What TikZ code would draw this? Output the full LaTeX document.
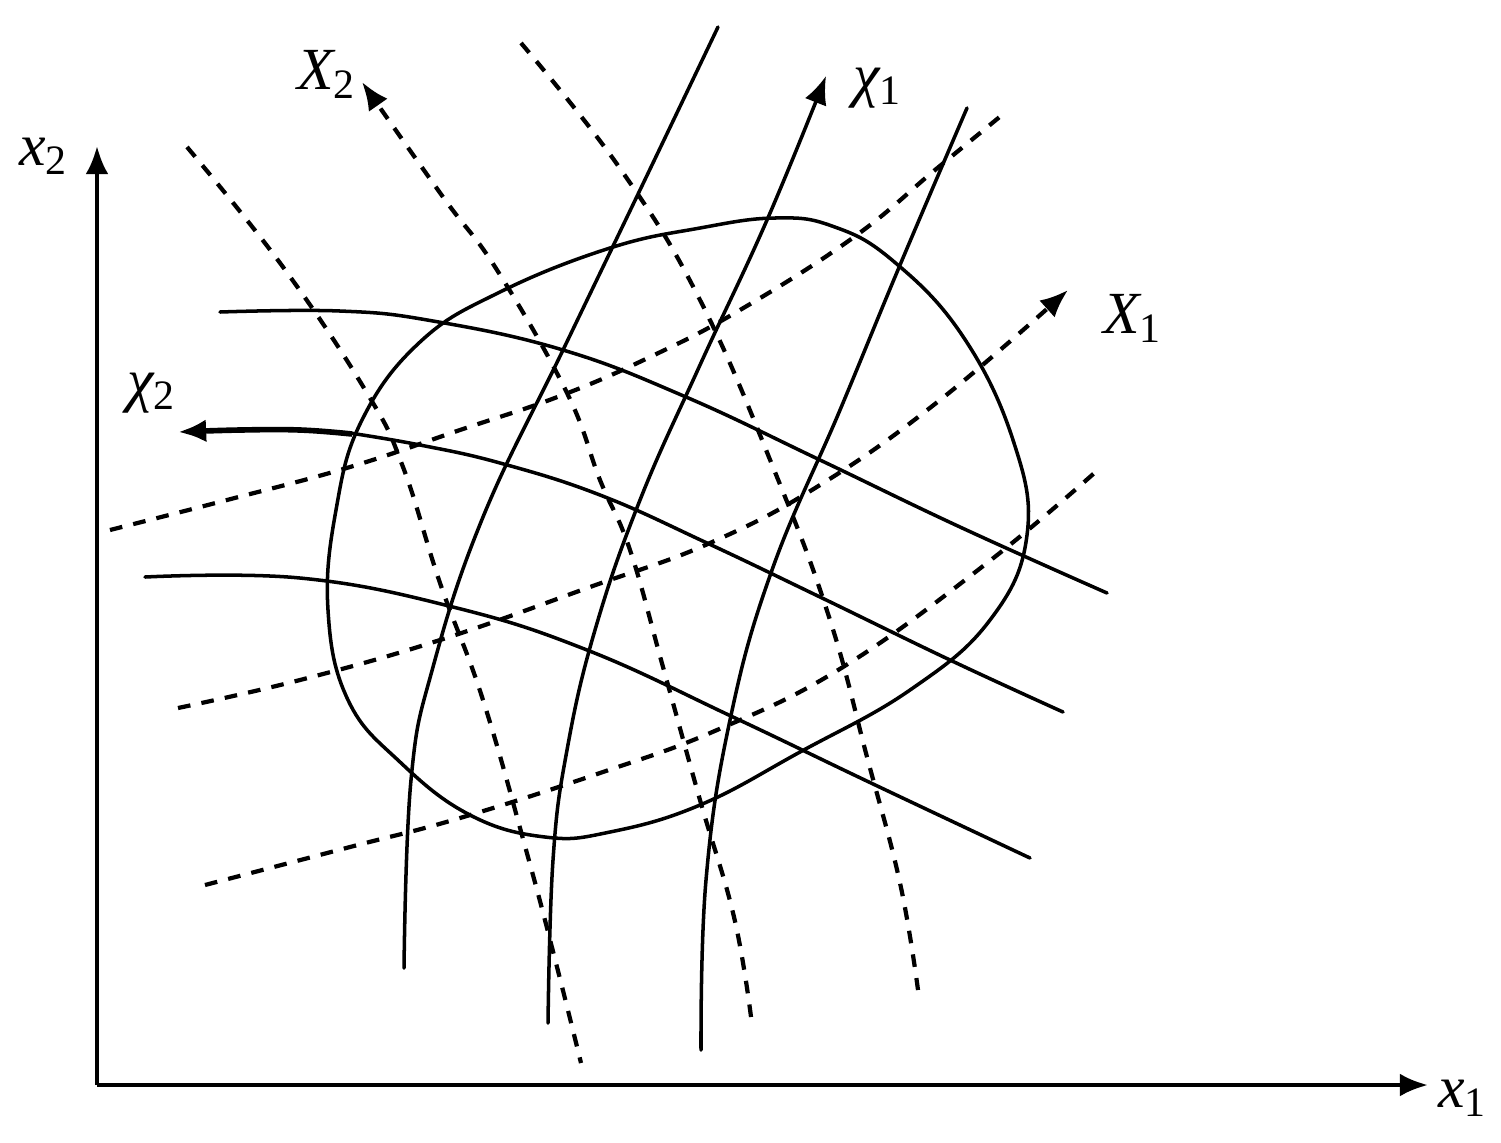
\documentclass[tikz,border=0pt]{standalone}
\usepackage{fontspec}
\setmainfont{Liberation Serif}
\usetikzlibrary{arrows.meta}
\begin{document}
\begin{tikzpicture}[x=0.01cm,y=-0.01cm,
  solidc/.style={line width=1pt,line cap=round,line join=round},
  dashc/.style={line width=1.2pt,dash pattern=on 3.6pt off 3.2pt},
  axisc/.style={line width=1.2pt},
  tip/.style={-{Latex[length=8pt,width=6.5pt]}},
  lbl/.style={font=\fontsize{17}{19}\selectfont\itshape,inner sep=0pt}]
\useasboundingbox (0,0) rectangle (1501,1142);
% axes
\coordinate (O) at (97,1085);
\coordinate (Ytop) at (97,146);
\coordinate (Xend) at (1428,1085);
\draw[axisc,tip] (O) -- (Ytop);
\draw[axisc,tip] (O) -- (Xend);
\node[lbl] (lx2) at (44,156) {x\textsubscript{\upshape 2}};
\node[lbl] (lx1) at (1463,1098) {x\textsubscript{\upshape 1}};
% closed region
\draw[solidc] plot[smooth cycle,tension=0.7] coordinates {
 (775,218) (832,226) (892,260) (962,335) (1013,440) (1027,535) (990,620)
 (910,690) (800,752) (700,805) (610,832) (545,837) (470,815) (400,762)
 (348,700) (328,610) (336,510) (362,420) (420,342) (500,292) (610,248)
 (700,228)};
% chi_1 family (solid)
\draw[solidc] plot[smooth,tension=0.7] coordinates {
 (718,27) (640,190) (563,350) (483,517) (433,667) (411,780) (404,968)};
\draw[solidc,tip] plot[smooth,tension=0.7] coordinates {
 (548,1023) (553,860) (567,750) (595,630) (640,500) (700,365) (767,220) (826,76)};
\draw[solidc] plot[smooth,tension=0.7] coordinates {
 (701,1050) (706,880) (730,720) (772,570) (840,410) (900,265) (967,108)};
% chi_2 family (solid)
\draw[solidc] plot[smooth,tension=0.7] coordinates {
 (220,312) (340,311) (433,321) (563,350) (686,397) (820,460) (960,527) (1107,593)};
\draw[solidc] plot[smooth,tension=0.7] coordinates {
 (1063,712) (950,660) (820,597) (707,543) (600,495) (500,463) (420,445) (350,433)};
\draw[line width=1.6pt,tip] plot[smooth,tension=0.7] coordinates {
 (352,434) (300,430) (240,430) (178,432)};
\draw[solidc] plot[smooth,tension=0.7] coordinates {
 (145,577) (300,578) (453,607) (587,650) (733,717) (871,783) (1030,858)};
% X_1 family (dashed)
\draw[dashc] plot[smooth,tension=0.7] coordinates {
 (110,530) (227,500) (350,467) (460,430) (560,396) (650,357) (740,310)
 (854,237) (935,170) (1002,115)};
\draw[dashc,tip] plot[smooth,tension=0.7] coordinates {
 (178,708) (300,680) (440,640) (590,587) (710,543) (820,485) (940,400) (1068,290)};
\draw[dashc] plot[smooth,tension=0.7] coordinates {
 (205,885) (350,847) (460,818) (600,773) (717,730) (843,667) (987,563) (1100,468)};
% X_2 family (dashed)
\draw[dashc] plot[smooth,tension=0.7] coordinates {
 (187,147) (283,267) (367,393) (403,467) (440,583) (483,700) (528,857)
 (557,967) (581,1063)};
\draw[dashc,tip] plot[smooth,tension=0.7] coordinates {
 (751,1017) (734,917) (700,800) (663,667) (630,550) (600,480) (567,393)
 (497,270) (443,197) (362,82)};
\draw[dashc] plot[smooth,tension=0.7] coordinates {
 (521,43) (619,167) (700,300) (777,477) (830,620) (867,757) (900,883) (918,990)};
% labels
\node[lbl] (lX2) at (327,74) {X\textsubscript{\upshape 2}};
\node[lbl] (lchi1) at (878,88) {χ\textsubscript{\upshape 1}};
\node[lbl] (lX1) at (1133,318) {X\textsubscript{\upshape 1}};
\node[lbl] (lchi2) at (152,393) {χ\textsubscript{\upshape 2}};
\end{tikzpicture}
\end{document}
